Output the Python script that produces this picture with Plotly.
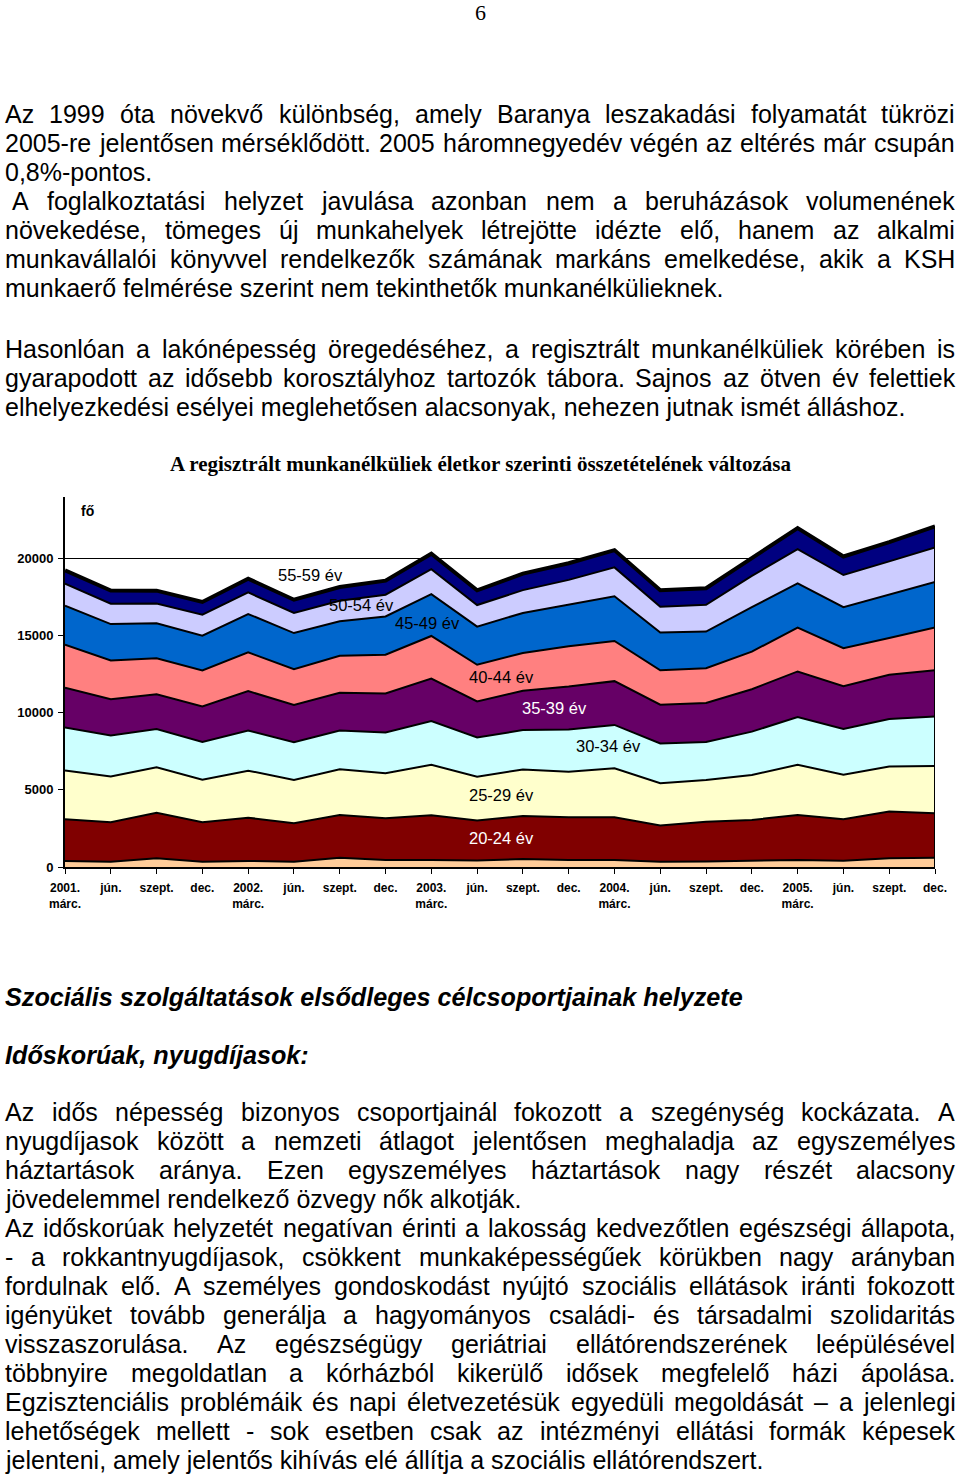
import plotly.graph_objects as go

# ---------------- data ----------------
periods = ["2001.<br>márc.", "jún.", "szept.", "dec.",
           "2002.<br>márc.", "jún.", "szept.", "dec.",
           "2003.<br>márc.", "jún.", "szept.", "dec.",
           "2004.<br>márc.", "jún.", "szept.", "dec.",
           "2005.<br>márc.", "jún.", "szept.", "dec."]

age_lt20 = [390, 345, 565, 345, 390, 345, 605, 455, 455, 420, 520, 455, 455, 345, 355, 410, 455, 410, 565, 605]
age_20_24 = [2710, 2560, 2960, 2560, 2810, 2490, 2770, 2710, 2900, 2600, 2790, 2770, 2770, 2350, 2580, 2640, 2920, 2690, 3030, 2880]
age_25_29 = [3160, 2960, 2950, 2750, 3050, 2810, 2970, 2920, 3270, 2830, 3020, 2960, 3180, 2740, 2710, 2920, 3250, 2880, 2920, 3070]
age_30_34 = [2790, 2660, 2470, 2450, 2600, 2450, 2510, 2640, 2840, 2550, 2550, 2730, 2810, 2580, 2470, 2810, 3100, 2970, 3080, 3200]
age_35_39 = [2580, 2360, 2260, 2310, 2560, 2420, 2450, 2530, 2760, 2340, 2550, 2790, 2840, 2510, 2530, 2750, 2960, 2770, 2880, 3010]
age_40_44 = [2790, 2510, 2330, 2340, 2510, 2320, 2400, 2510, 2760, 2380, 2450, 2620, 2610, 2230, 2250, 2440, 2850, 2470, 2380, 2770]
age_45_49 = [2530, 2360, 2270, 2250, 2490, 2340, 2230, 2490, 2710, 2470, 2600, 2710, 2900, 2450, 2380, 2880, 2860, 2660, 2810, 2960]
age_50_54 = [1430, 1320, 1280, 1360, 1400, 1300, 1340, 1410, 1620, 1400, 1480, 1590, 1870, 1670, 1730, 2030, 2230, 2090, 2160, 2240]
age_55_59 = [860, 860, 840, 830, 890, 860, 890, 910, 1010, 960, 1070, 1080, 1120, 1080, 1080, 1150, 1360, 1200, 1250, 1360]

series_names = ["-19 év", "20-24 év", "25-29 év", "30-34 év", "35-39 év",
                "40-44 év", "45-49 év", "50-54 év", "55-59 év"]
series_values = [age_lt20, age_20_24, age_25_29, age_30_34, age_35_39,
                 age_40_44, age_45_49, age_50_54, age_55_59]
series_colors = ["#FFCC99", "#800000", "#FFFFCC", "#CCFFFF", "#660066",
                 "#FF8080", "#0066CC", "#CCCCFF", "#000080"]

y_ticks = [0, 5000, 10000, 15000, 20000]

chart_title = "A regisztrált munkanélküliek életkor szerinti összetételének változása"

# ---------------- page text ----------------
para1 = [
    ("Az 1999 óta növekvő különbség, amely Baranya leszakadási folyamatát tükrözi", True),
    ("2005-re jelentősen mérséklődött. 2005 háromnegyedév végén az eltérés már csupán", True),
    ("0,8%-pontos.", False),
    (" A foglalkoztatási helyzet javulása azonban nem a beruházások volumenének", True),
    ("növekedése, tömeges új munkahelyek létrejötte idézte elő, hanem az alkalmi", True),
    ("munkavállalói könyvvel rendelkezők számának markáns emelkedése, akik a KSH", True),
    ("munkaerő felmérése szerint nem tekinthetők munkanélkülieknek.", False),
]
para2 = [
    ("Hasonlóan a lakónépesség öregedéséhez, a regisztrált munkanélküliek körében is", True),
    ("gyarapodott az idősebb korosztályhoz tartozók tábora. Sajnos az ötven év felettiek", True),
    ("elhelyezkedési esélyei meglehetősen alacsonyak, nehezen jutnak ismét álláshoz.", False),
]
heading1 = "Szociális szolgáltatások elsődleges célcsoportjainak helyzete"
heading2 = "Időskorúak, nyugdíjasok:"
para3 = [
    ("Az idős népesség bizonyos csoportjainál fokozott a szegénység kockázata. A", True),
    ("nyugdíjasok között a nemzeti átlagot jelentősen meghaladja az egyszemélyes", True),
    ("háztartások aránya. Ezen egyszemélyes háztartások nagy részét alacsony", True),
    ("jövedelemmel rendelkező özvegy nők alkotják.", False),
    ("Az időskorúak helyzetét negatívan érinti a lakosság kedvezőtlen egészségi állapota,", True),
    ("- a rokkantnyugdíjasok, csökkent munkaképességűek körükben nagy arányban", True),
    ("fordulnak elő. A személyes gondoskodást nyújtó szociális ellátások iránti fokozott", True),
    ("igényüket tovább generálja a hagyományos családi- és társadalmi szolidaritás", True),
    ("visszaszorulása. Az egészségügy geriátriai ellátórendszerének leépülésével", True),
    ("többnyire megoldatlan a kórházból kikerülő idősek megfelelő házi ápolása.", True),
    ("Egzisztenciális problémáik és napi életvezetésük egyedüli megoldását – a jelenlegi", True),
    ("lehetőségek mellett - sok esetben csak az intézményi ellátási formák képesek", True),
    ("jelenteni, amely jelentős kihívás elé állítja a szociális ellátórendszert.", False),
]

# ---------------- layout helpers ----------------
W, H = 960, 1476
BODY_FONT = "Liberation Sans, Arial, sans-serif"
BODY_SIZE = 25

ARIAL = {" ": 278, "!": 278, "%": 889, "(": 333, ")": 333, ",": 278, "-": 333,
         ".": 278, "/": 278, ":": 278, ";": 278, "–": 556,
         "A": 667, "B": 667, "C": 722, "D": 722, "E": 667, "F": 611, "G": 778,
         "H": 722, "I": 278, "J": 500, "K": 667, "L": 556, "M": 833, "N": 722,
         "O": 778, "P": 667, "Q": 778, "R": 722, "S": 667, "T": 611, "U": 722,
         "V": 667, "W": 944, "X": 667, "Y": 667, "Z": 611,
         "a": 556, "b": 556, "c": 500, "d": 556, "e": 556, "f": 278, "g": 556,
         "h": 556, "i": 222, "j": 222, "k": 500, "l": 222, "m": 833, "n": 556,
         "o": 556, "p": 556, "q": 556, "r": 333, "s": 500, "t": 278, "u": 556,
         "v": 500, "w": 722, "x": 500, "y": 500, "z": 500,
         "á": 556, "é": 556, "í": 278, "ó": 556, "ö": 556, "ő": 556, "ú": 556,
         "ü": 556, "ű": 556}
for d in "0123456789":
    ARIAL[d] = 556


def text_width(s, size):
    return sum(ARIAL.get(ch, 556) for ch in s) * size / 1000.0


def px(x):
    return x / W


def py(y):
    return 1 - y / H


annotations = []


def add_text(text, x, y, size=BODY_SIZE, family=BODY_FONT, color="black",
             xanchor="left", weight="normal", style="normal"):
    annotations.append(dict(
        text=text, x=px(x), y=py(y), xref="paper", yref="paper",
        xanchor=xanchor, yanchor="middle", showarrow=False,
        font=dict(family=family, size=size, color=color, weight=weight, style=style)))


def add_line(line, y, justify, left=5, right=955):
    if line.startswith(" "):
        left = left + text_width(" ", BODY_SIZE)
        line = line.strip()
    if not justify:
        add_text(line, left - 2, y)
        return
    words = line.split(" ")
    widths = [text_width(w, BODY_SIZE) for w in words]
    gap = (right - left - sum(widths)) / (len(words) - 1)
    x = left
    for w, wd in zip(words, widths):
        add_text(w, x - 2, y)
        x += wd + gap


def add_paragraph(lines, y0, step=29):
    for i, (ln, j) in enumerate(lines):
        add_line(ln, y0 + i * step, j)


add_text("6", 480, 12, size=22, family="Liberation Serif, Times New Roman, serif",
         xanchor="center")
add_paragraph(para1, 114)
add_paragraph(para2, 349)
add_text(heading1, 3, 997, size=25.2, weight="bold", style="italic")
add_text(heading2, 3, 1055, size=25.2, weight="bold", style="italic")
add_paragraph(para3, 1112)

# chart annotations
add_text("<b>" + chart_title + "</b>", 480, 464, size=21,
         family="Liberation Serif, Times New Roman, serif", xanchor="center")
add_text("fő", 79, 511, size=14, weight="bold")

label_pos = {"55-59 év": (310, 575, "black"), "50-54 év": (361, 605, "black"),
             "45-49 év": (427, 623, "black"), "40-44 év": (501, 677, "black"),
             "35-39 év": (554, 708, "white"), "30-34 év": (608, 746, "black"),
             "25-29 év": (501, 795, "black"), "20-24 év": (501, 838, "white")}
for name in series_names:
    if name in label_pos:
        lx, ly, lc = label_pos[name]
        add_text(name, lx, ly, size=16.5, color=lc, xanchor="center")

# ---------------- figure ----------------
fig = go.Figure()
xs = list(range(len(periods)))
for name, vals, col in zip(series_names, series_values, series_colors):
    fig.add_trace(go.Scatter(
        x=xs, y=vals, name=name, stackgroup="age", mode="lines",
        line=dict(color="black", width=4 if name == "55-59 év" else 2),
        fillcolor=col, hoverinfo="x+y+name"))

total_last = sum(v[-1] for v in series_values)
fig.add_trace(go.Scatter(x=[xs[-1], xs[-1]], y=[0, total_last], mode="lines",
                         line=dict(color="black", width=2), hoverinfo="skip",
                         showlegend=False))

x0, x1 = 65, 935
y_bottom, y_top = 867, 497
fig.update_layout(
    template="none",
    width=W, height=H, autosize=False,
    margin=dict(l=0, r=0, t=0, b=0, pad=0, autoexpand=False),
    paper_bgcolor="white", plot_bgcolor="white",
    showlegend=False,
    annotations=annotations,
    xaxis=dict(domain=[x0 / W, x1 / W], range=[0, len(periods) - 1],
               tickvals=xs, ticktext=periods, ticks="outside", ticklen=5,
               tickcolor="black", showline=True, linecolor="black", linewidth=2,
               showgrid=False, zeroline=False, automargin=False,
               ticklabelstandoff=4,
               tickfont=dict(family=BODY_FONT, size=12, color="black", weight="bold")),
    yaxis=dict(domain=[1 - y_bottom / H, 1 - y_top / H], range=[0, 24000],
               tickvals=y_ticks, ticktext=[str(v) for v in y_ticks],
               ticks="outside", ticklen=5, tickcolor="black",
               showline=True, linecolor="black", linewidth=2,
               showgrid=True, gridcolor="black", gridwidth=1, zeroline=False,
               automargin=False, ticklabelstandoff=2,
               tickfont=dict(family=BODY_FONT, size=13, color="black", weight="bold")),
)

fig.write_html("out.html",
               config={"displayModeBar": False},
               post_script="document.body.style.margin='0';"
                           "document.body.style.overflow='hidden';")
